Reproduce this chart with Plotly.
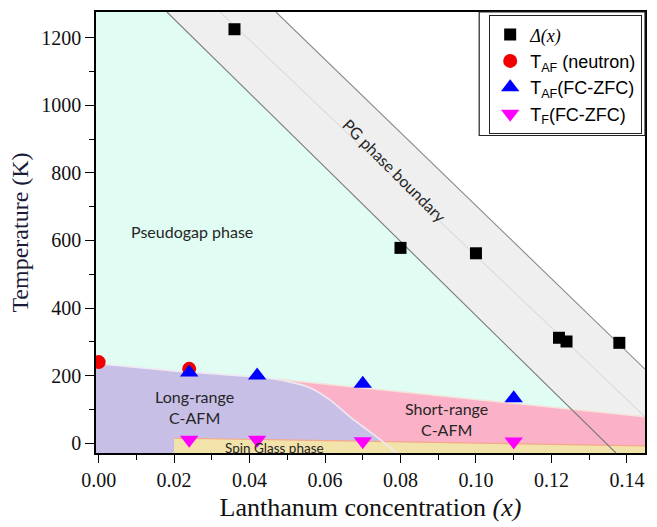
import plotly.graph_objects as go

# ---------------- data ----------------
delta_x = [0.036, 0.080, 0.100, 0.122, 0.124, 0.138]
delta_T = [1225, 578, 562, 312, 301, 297]

taf_n_x = [0.000, 0.024]
taf_n_T = [240, 220]

taf_fc_x = [0.024, 0.042, 0.070, 0.110]
taf_fc_T = [209, 200, 176, 133]

tf_fc_x = [0.024, 0.042, 0.070, 0.110]
tf_fc_T = [10, 10, 6, 5]

# phase-region boundaries (x, T)
X_MIN, X_MAX = -0.0007, 0.1448
T_MIN, T_MAX = -29, 1276

pg_left_x = [0.0181, 0.1371]
pg_left_T = [T_MAX, T_MIN]
pg_right_x = [0.0470, X_MAX]
pg_right_T = [T_MAX, 219]
pg_mid_x = [0.0322, X_MAX]
pg_mid_T = [T_MAX, 78]

lr_curve_x = [X_MIN, 0.000, 0.020, 0.0428, 0.050, 0.056, 0.0613, 0.0666, 0.0711, 0.0753, 0.0790]
lr_curve_T = [236, 235, 214, 195, 183, 164, 128, 78, 40, 5, -29]

sr_top_x = [0.0475, X_MAX]
sr_top_T = [189, 78]

sg_top_x = [0.020, X_MAX]
sg_top_T = [15, -8]

xticks = [0.00, 0.02, 0.04, 0.06, 0.08, 0.10, 0.12, 0.14]
yticks = [0, 200, 400, 600, 800, 1000, 1200]

# ---------------- colours ----------------
MINT = "#e0fcf3"
GREY = "#efefef"
LAV = "#c8bfe6"
PINK = "#fbb1c8"
BEIGE = "#f1e3aa"

fig = go.Figure()

def region(xs, ys, color):
    fig.add_trace(go.Scatter(x=xs, y=ys, fill="toself", fillcolor=color, mode="lines",
                             line=dict(width=0), hoverinfo="skip", showlegend=False))

# pseudogap (mint) region left of PG band
region([X_MIN, X_MIN, pg_left_x[0], pg_left_x[1]], [T_MIN, T_MAX, pg_left_T[0], pg_left_T[1]], MINT)
# PG band (grey)
region([pg_left_x[0], pg_right_x[0], pg_right_x[1], X_MAX, pg_left_x[1]],
       [pg_left_T[0], pg_right_T[0], pg_right_T[1], T_MIN, pg_left_T[1]], GREY)
# short-range C-AFM (pink)
region([sr_top_x[0], sr_top_x[1], X_MAX, 0.04], [sr_top_T[0], sr_top_T[1], T_MIN, T_MIN], PINK)
# long-range C-AFM (lavender)
region(lr_curve_x + [X_MIN], lr_curve_T + [T_MIN], LAV)
# spin glass (beige)
region([sg_top_x[0], sg_top_x[0], sg_top_x[1], sg_top_x[1]], [T_MIN, sg_top_T[0], sg_top_T[1], T_MIN], BEIGE)

# boundary lines
def bline(xs, ys, color, w):
    fig.add_trace(go.Scatter(x=xs, y=ys, mode="lines", line=dict(color=color, width=w, shape="spline", smoothing=0.6),
                             hoverinfo="skip", showlegend=False))

bline(sg_top_x, sg_top_T, "#f5a98a", 1.2)
bline(lr_curve_x[1:], lr_curve_T[1:], "#eeeaf4", 1.6)
bline(sr_top_x, sr_top_T, "#f3e3d8", 1.5)
bline(pg_mid_x, pg_mid_T, "#d4d4d4", 1)
bline(pg_left_x, pg_left_T, "#7a7a7a", 1.1)
bline(pg_right_x, pg_right_T, "#8a8a8a", 1.1)

# data markers
fig.add_trace(go.Scatter(x=delta_x, y=delta_T, mode="markers",
                         marker=dict(symbol="square", size=12, color="black"),
                         name="<span style='font-family:Liberation Serif'><i>Δ(x)</i></span>"))
fig.add_trace(go.Scatter(x=taf_n_x, y=taf_n_T, mode="markers",
                         marker=dict(symbol="circle", size=14, color="#f00000"),
                         name="T<sub>AF</sub> (neutron)"))
fig.add_trace(go.Scatter(x=taf_fc_x, y=taf_fc_T, mode="markers",
                         marker=dict(symbol="triangle-up", size=16, color="#0000ff"),
                         name="T<sub>AF</sub>(FC-ZFC)"))
fig.add_trace(go.Scatter(x=tf_fc_x, y=tf_fc_T, mode="markers",
                         marker=dict(symbol="triangle-down", size=16, color="#ff00ff"),
                         name="T<sub>F</sub>(FC-ZFC)"))

lab_font = dict(family="Lato, Open Sans, sans-serif", size=16, color="#262626")
annots = [
    dict(x=0.0248, y=627, text="Pseudogap phase", textangle=0),
    dict(x=0.0785, y=808, text="PG phase boundary", textangle=45),
    dict(x=0.0253, y=107, text="Long-range<br>C-AFM", textangle=0),
    dict(x=0.0923, y=72, text="Short-range<br>C-AFM", textangle=0),
]
for a in annots:
    fig.add_annotation(x=a["x"], y=a["y"], text=a["text"], textangle=a["textangle"],
                       showarrow=False, font=lab_font, xref="x", yref="y")
fig.add_annotation(x=0.0467, y=-15, text="Spin Glass phase", showarrow=False,
                   font=dict(family="Lato, Open Sans, sans-serif", size=13.5, color="#262626"))

# outer frame of legend (double border)
fig.add_shape(type="rect", xref="paper", yref="paper", x0=0.698, x1=1.0, y0=0.72, y1=1.0,
              line=dict(color="#222", width=1.2), fillcolor="rgba(0,0,0,0)", layer="above")

serif = "Liberation Serif, Times New Roman, serif"
fig.update_layout(
    width=657, height=527,
    margin=dict(l=96, r=11, t=10, b=70),
    plot_bgcolor="white", paper_bgcolor="white",
    showlegend=True,
    legend=dict(x=0.9945, y=0.993, xanchor="right", yanchor="top",
                bgcolor="white", bordercolor="#222", borderwidth=1.2,
                font=dict(family="Liberation Sans, Arial, sans-serif", size=18, color="black"),
                itemsizing="trace", tracegroupgap=0),
    xaxis=dict(range=[X_MIN, X_MAX], tickvals=xticks, ticktext=[f"{v:.2f}" for v in xticks],
               ticks="outside", ticklen=8, tickwidth=1.3, tickcolor="black",
               minor=dict(dtick=0.01, tick0=0, ticks="outside", ticklen=5, tickwidth=1.2, tickcolor="black"),
               showline=True, linecolor="black", linewidth=1.5, mirror=True,
               showgrid=False, zeroline=False,
               tickfont=dict(family=serif, size=20, color="#111"),
               title=dict(text="Lanthanum concentration <i>(x)</i>", font=dict(family=serif, size=26, color="#111"),
                          standoff=8)),
    yaxis=dict(range=[T_MIN, T_MAX], tickvals=yticks,
               ticks="outside", ticklen=9, tickwidth=1.3, tickcolor="black",
               minor=dict(dtick=100, tick0=0, ticks="outside", ticklen=5, tickwidth=1.2, tickcolor="black"),
               showline=True, linecolor="black", linewidth=1.5, mirror=True,
               showgrid=False, zeroline=False,
               tickfont=dict(family=serif, size=20, color="#111"),
               title=dict(text="Temperature (K)", font=dict(family=serif, size=24, color="#1b1b38"),
                          standoff=6)),
)

fig.write_html("out.html")
